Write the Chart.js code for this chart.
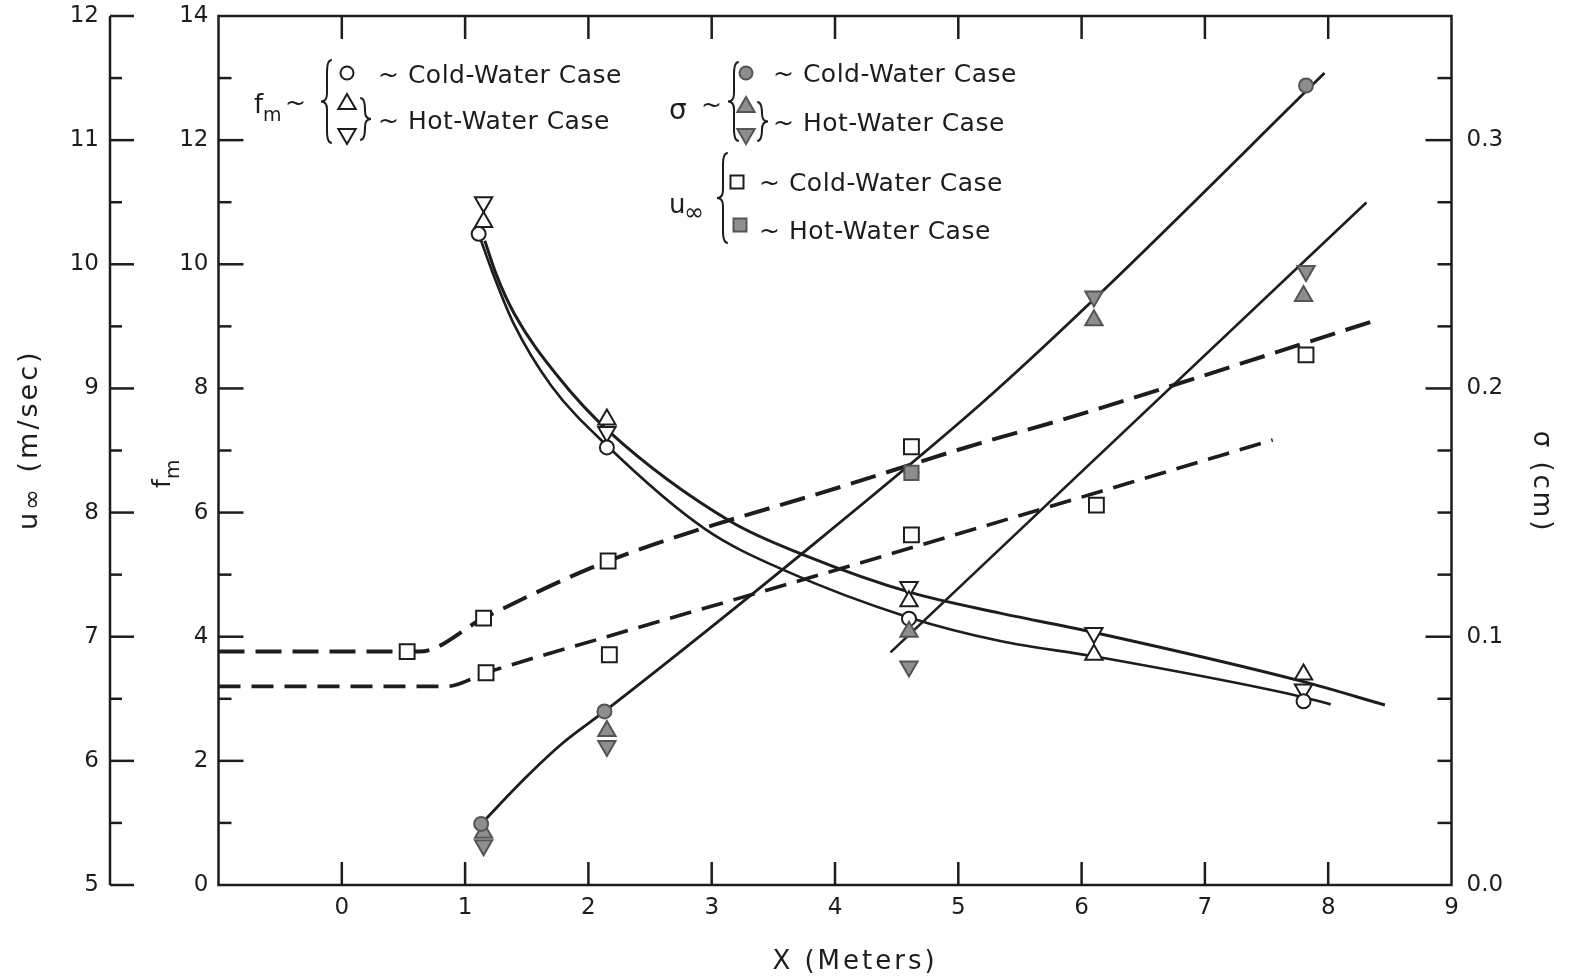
<!DOCTYPE html>
<html>
<head>
<meta charset="utf-8">
<script src="https://cdn.jsdelivr.net/npm/chart.js@4.4.1/dist/chart.umd.min.js"></script>
<style>
  html, body { margin: 0; padding: 0; background: #fff; }
  #wrap { width: 1577px; height: 979px; }
</style>
</head>
<body>
<div id="wrap"><canvas id="chart" width="1577" height="979"></canvas></div>
<script>
// ---- data (x in meters) ----
// f_m markers
const fmColdX = [1.11, 2.15, 4.6, 7.8];
const fmColdY = [10.49, 7.05, 4.29, 2.96];
const fmHotUpX = [1.15, 2.15, 4.6, 6.1, 7.8];
const fmHotUpY = [10.68, 7.50, 4.57, 3.71, 3.39];
const fmHotDownX = [1.15, 2.15, 4.6, 6.1, 7.8];
const fmHotDownY = [11.0, 7.30, 4.80, 4.06, 3.15];

// sigma markers (cm)
const sigColdX = [1.13, 2.13, 4.62, 7.82];
const sigColdY = [0.0246, 0.0699, 0.166, 0.322];
const sigHotUpX = [1.15, 2.15, 4.6, 6.1, 7.8];
const sigHotUpY = [0.021, 0.062, 0.102, 0.2275, 0.2372];
const sigHotDownX = [1.15, 2.15, 4.6, 6.1, 7.82];
const sigHotDownY = [0.016, 0.056, 0.088, 0.237, 0.2473];

// u_inf markers (m/sec)
const uColdX = [0.53, 1.15, 1.17, 2.16, 2.17, 4.62, 4.62, 6.12, 7.82];
const uColdY = [6.88, 7.15, 6.71, 7.61, 6.855, 8.53, 7.82, 8.06, 9.27];
const uHotX = [4.62];
const uHotY = [8.32];

// hand-drawn fit curves
const fmUpperFitX = [1.16, 1.25, 1.4, 1.75, 2.17, 3.15, 3.77, 4.62, 5.34, 6.12, 7.79, 8.46];
const fmUpperFitY = [10.38, 9.85, 9.2, 8.2, 7.3, 5.86, 5.3, 4.71, 4.38, 4.06, 3.28, 2.9];
const fmLowerFitX = [1.13, 1.22, 1.39, 1.7, 2.15, 2.95, 3.6, 4.6, 5.34, 6.11, 7.79, 8.02];
const fmLowerFitY = [10.38, 9.88, 9.06, 8.04, 7.08, 5.73, 5.06, 4.31, 3.93, 3.68, 3.03, 2.91];
const sigColdFitX = [1.13, 1.5, 1.79, 2.13, 3.77, 5.18, 6.12, 7.97];
const sigColdFitY = [0.0246, 0.0437, 0.0571, 0.0699, 0.135, 0.1936, 0.2368, 0.327];
const sigHotFitX = [4.45, 8.31];
const sigHotFitY = [0.0937, 0.2749];
const uUpperFitX = [-1, 0.63, 1.15, 2.16, 4.12, 5.18, 5.85, 8.36];
const uUpperFitY = [6.88, 6.88, 7.15, 7.61, 8.23, 8.56, 8.75, 9.54];
const uLowerFitX = [-1, 0.85, 1.17, 2.15, 4.12, 6.39, 7.55];
const uLowerFitY = [6.60, 6.60, 6.71, 7.0, 7.57, 8.24, 8.585];

// tick marks
const xTickMarks = [0, 1, 2, 3, 4, 5, 6, 7, 8];
const fmTickMarks = [1, 2, 3, 4, 5, 6, 7, 8, 9, 10, 11, 12, 13];
const uTickMarks = [5, 5.5, 6, 6.5, 7, 7.5, 8, 8.5, 9, 9.5, 10, 10.5, 11, 11.5, 12];
const sigTickMarks = [0.025, 0.05, 0.075, 0.1, 0.125, 0.15, 0.175, 0.2, 0.225, 0.25, 0.275, 0.3, 0.325];

const ink = '#1d1d1d';
const grayFill = '#8e8e8e';
const grayEdge = '#555555';
const FONT = '"DejaVu Sans", sans-serif';

function pts(xs, ys) {
    return xs.map((x, i) => ({ x: x, y: ys[i] }));
}

function markers(xs, ys, axis, style, rot, fill, edge, r) {
    return {
        data: pts(xs, ys), yAxisID: axis, showLine: false, order: 0,
        pointStyle: style, rotation: rot, pointRadius: r,
        pointBackgroundColor: fill, pointBorderColor: edge, pointBorderWidth: 2
    };
}

function fitLine(xs, ys, axis, width, dash, smooth) {
    return {
        data: pts(xs, ys), yAxisID: axis, showLine: true, order: 2,
        borderColor: ink, borderWidth: width, borderDash: dash,
        pointRadius: 0, cubicInterpolationMode: smooth ? 'monotone' : 'default', tension: 0,
        fill: false
    };
}

// keep the plot box where the figure has it: no extra room for half labels
function fixWidth(w) {
    return s => { s.width = w; s.paddingTop = 0; s.paddingBottom = 0; };
}

// small drawing helpers for the axes and the hand lettered legend
function seg(ctx, x1, y1, x2, y2) {
    ctx.beginPath(); ctx.moveTo(x1, y1); ctx.lineTo(x2, y2); ctx.stroke();
}

function drawMark(ctx, kind, x, y, fill, edge) {
    ctx.save();
    ctx.fillStyle = fill; ctx.strokeStyle = edge; ctx.lineWidth = 2;
    ctx.beginPath();
    if (kind === 'circle') ctx.arc(x, y, 6.5, 0, Math.PI * 2);
    else if (kind === 'up') { ctx.moveTo(x, y - 10); ctx.lineTo(x + 8.7, y + 5); ctx.lineTo(x - 8.7, y + 5); ctx.closePath(); }
    else if (kind === 'down') { ctx.moveTo(x, y + 10); ctx.lineTo(x + 8.7, y - 5); ctx.lineTo(x - 8.7, y - 5); ctx.closePath(); }
    else ctx.rect(x - 6.5, y - 6.5, 13, 13);
    ctx.fill(); ctx.stroke();
    ctx.restore();
}

function brace(ctx, x, y0, y1, open) {
    const d = open ? 1 : -1, ym = (y0 + y1) / 2, w = 6;
    ctx.beginPath();
    ctx.moveTo(x + d * w * 1.8, y0);
    ctx.quadraticCurveTo(x + d * w, y0, x + d * w, y0 + 12);
    ctx.lineTo(x + d * w, ym - 8);
    ctx.quadraticCurveTo(x + d * w, ym, x, ym);
    ctx.quadraticCurveTo(x + d * w, ym, x + d * w, ym + 8);
    ctx.lineTo(x + d * w, y1 - 12);
    ctx.quadraticCurveTo(x + d * w, y1, x + d * w * 1.8, y1);
    ctx.stroke();
}

const decorPlugin = {
    id: 'decor',
    afterDraw(chart) {
        const ctx = chart.ctx, a = chart.chartArea;
        const sx = chart.scales.x, sf = chart.scales.yFm, su = chart.scales.yU, ss = chart.scales.yS;
        ctx.save();
        ctx.strokeStyle = ink;
        ctx.fillStyle = ink;
        ctx.lineWidth = 2.5;

        // frame
        ctx.strokeRect(a.left, a.top, a.right - a.left, a.bottom - a.top);

        // inward ticks, top and bottom
        xTickMarks.forEach(v => {
            const p = sx.getPixelForValue(v);
            seg(ctx, p, a.bottom, p, a.bottom - 23);
            seg(ctx, p, a.top, p, a.top + 23);
        });
        // f_m ticks
        fmTickMarks.forEach(v => {
            const p = sf.getPixelForValue(v);
            seg(ctx, a.left, p, a.left + (v % 2 === 0 ? 25 : 13), p);
        });
        // u_inf axis on its own line
        const ux = su.right;
        seg(ctx, ux, su.getPixelForValue(12), ux, su.getPixelForValue(5));
        uTickMarks.forEach(v => {
            const p = su.getPixelForValue(v);
            seg(ctx, ux, p, ux + (Number.isInteger(v) ? 24 : 12), p);
        });
        // sigma ticks
        sigTickMarks.forEach(v => {
            const p = ss.getPixelForValue(v);
            const major = Math.abs(v * 10 - Math.round(v * 10)) < 1e-6;
            seg(ctx, a.right - (major ? 26 : 14), p, a.right, p);
        });

        // axis titles
        ctx.textAlign = 'center';
        ctx.textBaseline = 'alphabetic';
        ctx.font = '26px ' + FONT;
        ctx.letterSpacing = '3px';
        ctx.fillText('X (Meters)', 855, 969);

        ctx.save();
        ctx.translate(1541, 482);
        ctx.rotate(Math.PI / 2);
        ctx.textBaseline = 'middle';
        ctx.fillText('\u03c3 (cm)', 0, 0);
        ctx.restore();

        ctx.save();
        ctx.translate(37, 530);
        ctx.rotate(-Math.PI / 2);
        ctx.textAlign = 'left';
        ctx.letterSpacing = '3px';
        ctx.font = '27px ' + FONT;
        ctx.fillText('u', 0, 0);
        ctx.font = '25px ' + FONT;
        ctx.fillText('\u221e', 20, 3);
        ctx.font = '27px ' + FONT;
        ctx.fillText(' (m/sec)', 46, 0);
        ctx.restore();

        ctx.save();
        ctx.translate(170, 488);
        ctx.rotate(-Math.PI / 2);
        ctx.textAlign = 'left';
        ctx.letterSpacing = '0px';
        ctx.font = '25px ' + FONT;
        ctx.fillText('f', 0, 0);
        ctx.font = '20px ' + FONT;
        ctx.fillText('m', 9, 9);
        ctx.restore();

        // legend blocks
        ctx.textAlign = 'left';
        ctx.letterSpacing = '0.5px';
        ctx.lineWidth = 2;

        // f_m block
        ctx.font = '26px ' + FONT;
        ctx.fillText('f', 254, 113);
        ctx.font = '19px ' + FONT;
        ctx.fillText('m', 263, 121);
        ctx.font = '25px ' + FONT;
        ctx.fillText('~', 285, 111);
        brace(ctx, 321, 60, 143, true);
        drawMark(ctx, 'circle', 347, 73, '#fff', ink);
        drawMark(ctx, 'up', 347, 104, '#fff', ink);
        drawMark(ctx, 'down', 347, 134, '#fff', ink);
        brace(ctx, 371, 98, 140, false);
        ctx.fillText('~ Cold-Water Case', 378, 83);
        ctx.fillText('~ Hot-Water Case', 378, 129);

        // sigma block
        ctx.font = '28px ' + FONT;
        ctx.fillText('\u03c3', 669, 119);
        ctx.font = '25px ' + FONT;
        ctx.fillText('~', 701, 113);
        brace(ctx, 728, 62, 141, true);
        drawMark(ctx, 'circle', 746, 73, grayFill, grayEdge);
        drawMark(ctx, 'up', 746, 107, grayFill, grayEdge);
        drawMark(ctx, 'down', 746, 134, grayFill, grayEdge);
        brace(ctx, 768, 102, 141, false);
        ctx.fillText('~ Cold-Water Case', 773, 82);
        ctx.fillText('~ Hot-Water Case', 773, 131);

        // u_inf block
        ctx.font = '26px ' + FONT;
        ctx.fillText('u', 669, 213);
        ctx.font = '24px ' + FONT;
        ctx.fillText('\u221e', 684, 220);
        brace(ctx, 717, 153, 243, true);
        ctx.font = '25px ' + FONT;
        drawMark(ctx, 'square', 737, 182, '#fff', ink);
        drawMark(ctx, 'square', 740, 225, grayFill, grayEdge);
        ctx.fillText('~ Cold-Water Case', 759, 191);
        ctx.fillText('~ Hot-Water Case', 759, 239);

        ctx.restore();
    }
};

const tickFont = { family: FONT, size: 23 };

new Chart(document.getElementById('chart'), {
    type: 'scatter',
    data: {
        datasets: [
            fitLine(fmUpperFitX, fmUpperFitY, 'yFm', 3, [], true),
            fitLine(fmLowerFitX, fmLowerFitY, 'yFm', 2.6, [], true),
            fitLine(sigColdFitX, sigColdFitY, 'yS', 2.8, [], true),
            fitLine(sigHotFitX, sigHotFitY, 'yS', 2.6, [], false),
            fitLine(uUpperFitX, uUpperFitY, 'yU', 4, [26, 11], true),
            fitLine(uLowerFitX, uLowerFitY, 'yU', 3.6, [22, 11], true),
            markers(uColdX, uColdY, 'yU', 'rect', 0, '#fff', ink, 10.5),
            markers(uHotX, uHotY, 'yU', 'rect', 0, grayFill, grayEdge, 10),
            markers(sigColdX, sigColdY, 'yS', 'circle', 0, grayFill, grayEdge, 7),
            markers(sigHotUpX, sigHotUpY, 'yS', 'triangle', 0, grayFill, grayEdge, 10),
            markers(sigHotDownX, sigHotDownY, 'yS', 'triangle', 180, grayFill, grayEdge, 10),
            markers(fmColdX, fmColdY, 'yFm', 'circle', 0, '#fff', ink, 7),
            markers(fmHotUpX, fmHotUpY, 'yFm', 'triangle', 0, '#fff', ink, 10),
            markers(fmHotDownX, fmHotDownY, 'yFm', 'triangle', 180, '#fff', ink, 10)
        ]
    },
    options: {
        responsive: false,
        animation: false,
        devicePixelRatio: 1,
        events: [],
        layout: { padding: { top: 16, left: 0, right: 0, bottom: 0 } },
        plugins: { legend: { display: false }, tooltip: { enabled: false } },
        scales: {
            x: {
                type: 'linear', position: 'bottom', min: -1, max: 9,
                afterFit: s => { s.height = 94; s.paddingLeft = 0; s.paddingRight = 0; },
                grid: { display: false, drawTicks: false },
                border: { display: false },
                ticks: {
                    stepSize: 1, padding: 9, color: ink, font: tickFont,
                    maxRotation: 0, autoSkip: false, includeBounds: false,
                    callback: v => (v < 0 ? '' : String(v))
                }
            },
            yFm: {
                type: 'linear', position: 'left', weight: 0, min: 0, max: 14,
                afterFit: fixWidth(108.5),
                grid: { display: false, drawTicks: false },
                border: { display: false },
                ticks: { stepSize: 2, padding: 10, color: ink, font: tickFont, includeBounds: false }
            },
            yU: {
                type: 'linear', position: 'left', weight: 1, min: 5, max: 12,
                afterFit: fixWidth(110),
                grid: { display: false, drawTicks: false },
                border: { display: false },
                ticks: { stepSize: 1, padding: 11, color: ink, font: tickFont, includeBounds: false }
            },
            yS: {
                type: 'linear', position: 'right', min: 0, max: 0.35,
                afterFit: fixWidth(125.5),
                grid: { display: false, drawTicks: false },
                border: { display: false },
                ticks: {
                    stepSize: 0.1, padding: 15, color: ink, font: tickFont, includeBounds: false,
                    callback: v => Number(v).toFixed(1)
                }
            }
        }
    },
    plugins: [decorPlugin]
});
</script>
</body>
</html>
